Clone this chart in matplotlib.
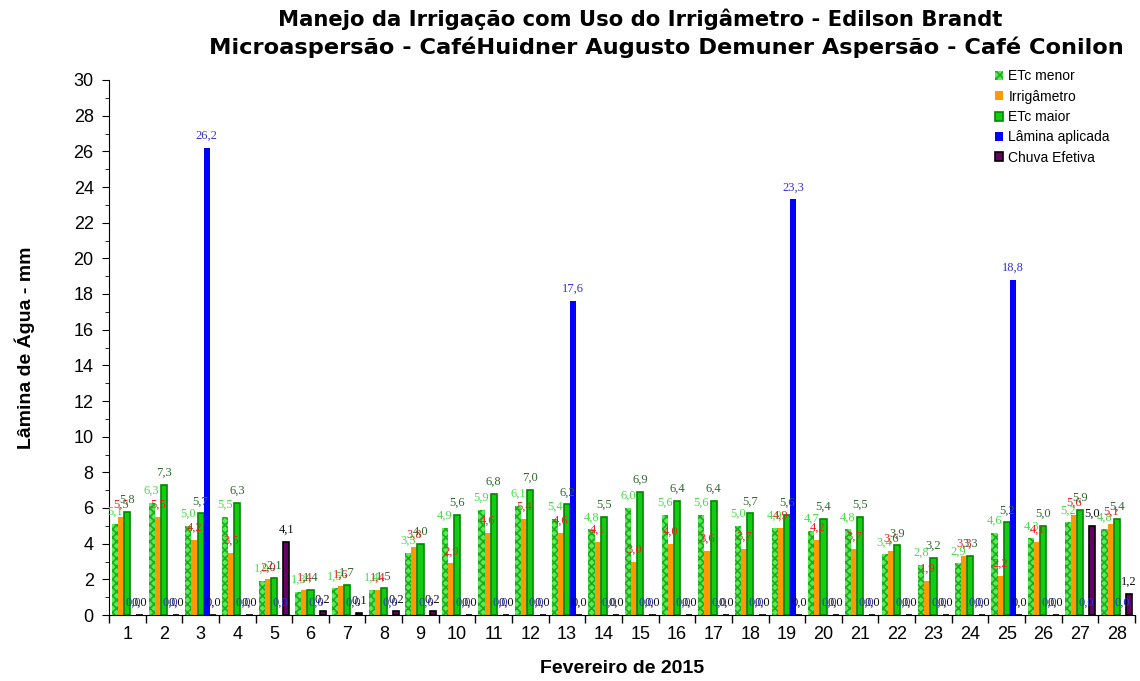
import matplotlib
matplotlib.use("Agg")
import matplotlib.pyplot as plt
import numpy as np
from matplotlib.patches import Patch
from matplotlib.ticker import MultipleLocator

days = list(range(1, 29))
etc_menor = [5.1, 6.3, 5.0, 5.5, 1.9, 1.3, 1.5, 1.4, 3.5, 4.9, 5.9, 6.1, 5.4, 4.8,
             6.0, 5.6, 5.6, 5.0, 4.9, 4.7, 4.8, 3.4, 2.8, 2.9, 4.6, 4.3, 5.2, 4.8]
irrigametro = [5.5, 5.5, 4.2, 3.5, 2.0, 1.4, 1.6, 1.4, 3.8, 2.9, 4.6, 5.4, 4.6, 4.1,
               3.0, 4.0, 3.6, 3.7, 4.9, 4.2, 3.7, 3.6, 1.9, 3.3, 2.2, 4.1, 5.6, 5.1]
etc_maior = [5.8, 7.3, 5.7, 6.3, 2.1, 1.4, 1.7, 1.5, 4.0, 5.6, 6.8, 7.0, 6.2, 5.5,
             6.9, 6.4, 6.4, 5.7, 5.6, 5.4, 5.5, 3.9, 3.2, 3.3, 5.2, 5.0, 5.9, 5.4]
lamina = [0, 0, 26.2, 0, 0, 0, 0, 0, 0, 0, 0, 0, 17.6, 0,
          0, 0, 0, 0, 23.3, 0, 0, 0, 0, 0, 18.8, 0, 0, 0]
chuva = [0, 0, 0, 0, 4.1, 0.2, 0.1, 0.2, 0.2, 0, 0, 0, 0, 0,
         0, 0, 0, 0, 0, 0, 0, 0, 0, 0, 0, 0, 5.0, 1.2]

series_names = ["ETc menor", "Irrigâmetro", "ETc maior", "Lâmina aplicada", "Chuva Efetiva"]

plt.rcParams['font.family'] = ['Liberation Sans', 'DejaVu Sans']
plt.rcParams['hatch.linewidth'] = 1.2

fig = plt.figure(figsize=(11.4, 6.81), dpi=100)
ax = fig.add_axes([109/1140, 1-615/681, (1135-109)/1140, (615-80)/681])

x = np.arange(len(days))
w = 1/6.0
styles = [
    dict(color='#55ee55', edgecolor='#1faa1f', hatch='xxxx', linewidth=0),
    dict(color='#ff9900', edgecolor='#ff9900', linewidth=0),
    dict(color='#11cc11', edgecolor='#008800', linewidth=1.2),
    dict(color='#0000ff', edgecolor='#0000ff', linewidth=0),
    dict(color='#660066', edgecolor='#000000', linewidth=1.2),
]
label_colors = ['#44e044', '#ee2020', '#2e6a2e', '#3333cc', '#111111']
data = [etc_menor, irrigametro, etc_maior, lamina, chuva]

handles = []
for i, (vals, st) in enumerate(zip(data, styles)):
    pos = x + (i - 2) * w
    ax.bar(pos, vals, width=w, zorder=2, **st)
    handles.append(Patch(facecolor=st['color'], edgecolor=st['edgecolor'],
                         hatch=st.get('hatch'), linewidth=st['linewidth'],
                         label=series_names[i]))
    for px, v in zip(pos, vals):
        ax.annotate(f"{v:.1f}".replace('.', ','), (px, v), xytext=(0, 12),
                    textcoords='offset pixels', ha='center', va='center',
                    fontsize=9, color=label_colors[i], family='Liberation Serif',
                    zorder=3)

ax.set_xlim(-0.5, len(days) - 0.5)
ax.set_ylim(0, 30)
ax.yaxis.set_major_locator(MultipleLocator(2))
ax.yaxis.set_minor_locator(MultipleLocator(1))
ax.set_xticks(x)
ax.set_xticklabels([str(d) for d in days], fontsize=13)
ax.set_xticks(np.arange(-0.5, len(days)), minor=True)
ax.tick_params(axis='x', which='major', length=0, pad=8)
ax.tick_params(axis='x', which='minor', length=6, width=1)
ax.tick_params(axis='y', which='major', length=5, labelsize=13, pad=6)
ax.tick_params(axis='y', which='minor', length=3)
for s in ['top', 'right']:
    ax.spines[s].set_visible(False)

ax.set_ylabel("Lâmina de Água - mm", fontsize=14, fontweight='bold', labelpad=28)
ax.set_xlabel("Fevereiro de 2015", fontsize=14, fontweight='bold', labelpad=12)

fig.text(640/1140, 1-19/681, "Manejo da Irrigação com Uso do Irrigâmetro - Edilson Brandt",
         ha='center', va='center', fontsize=15.2, fontweight='bold', family='DejaVu Sans')
fig.text(666/1140, 1-47/681, "Microaspersão - CaféHuidner Augusto Demuner Aspersão - Café Conilon",
         ha='center', va='center', fontsize=16.2, fontweight='bold', family='DejaVu Sans')

leg = ax.legend(handles=handles, loc='upper left', bbox_to_anchor=(982/1140, 1-57/681),
                bbox_transform=fig.transFigure, frameon=False, fontsize=10,
                handlelength=0.6, handleheight=0.6, handletextpad=0.4, labelspacing=0.45)

fig.savefig("out.png", dpi=100)
